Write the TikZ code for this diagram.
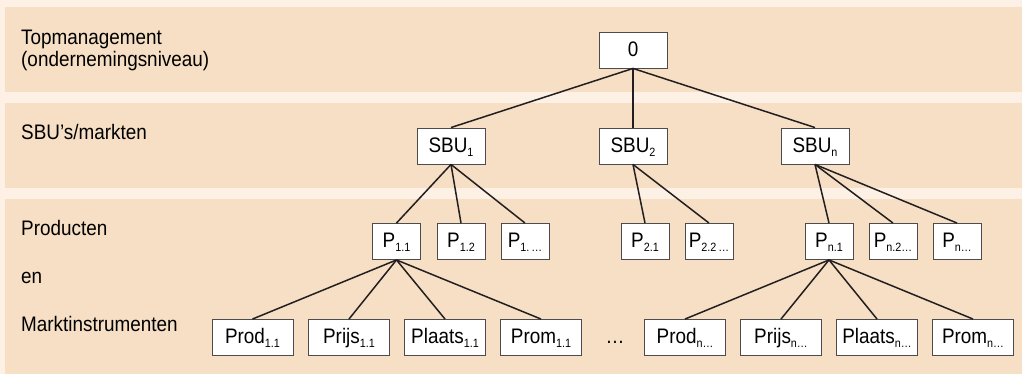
\documentclass[tikz,border=0pt]{standalone}
\usepackage{fontspec}
\setmainfont{Liberation Sans}[FakeStretch=0.9]
\usepackage{tikz}
\usetikzlibrary{positioning}
\definecolor{mycream}{RGB}{253,240,228}
\definecolor{mytan}{RGB}{246,223,196}
\definecolor{myink}{RGB}{35,31,32}
\tikzstyle{box}=[draw=black!70,fill=white,line width=0.9pt,inner sep=0pt,minimum height=36pt,text height=17pt,text depth=4pt]
\tikzstyle{topbox}=[box,minimum width=68pt]
\tikzstyle{pbox}=[box,minimum width=48pt]
\tikzstyle{mixbox}=[box,minimum width=81pt]
\tikzstyle{band}=[fill=mytan]
\tikzstyle{layer}=[anchor=base west,align=left,inner sep=0pt]
\tikzstyle{link}=[draw=myink,line width=1.5pt]
\newcommand{\ix}[1]{\raisebox{-4pt}{\fontsize{12}{12}\selectfont #1}}

\begin{document}
\begin{tikzpicture}[x=1pt,y=1pt,font=\fontsize{21}{22}\selectfont]
% bands
\fill[mycream] (0,0) rectangle (1022,374);
\fill[band] (5,282) rectangle (1022,367);
\fill[band] (5,186) rectangle (1022,271);
\fill[band] (5,0) rectangle (1022,175);
% row labels
\node[layer] (lbltop) at (21,307) {Topmanagement\\(ondernemingsniveau)};
\node[layer] (lblsbu) at (21,234) {SBU’s/markten};
\node[layer] (lblprod) at (21,138) {Producten};
\node[layer] (lblen) at (21,90) {en};
\node[layer] (lblmix) at (21,42) {Marktinstrumenten};
% tree
\draw (633,324) node [topbox] (o) {0};
\draw (451,228) node [topbox] (sbu1) {SBU\ix{1}};
\draw (633,228) node [topbox] (sbu2) {SBU\ix{2}};
\draw (815,228) node [topbox] (sbun) {SBU\ix{n}};
\draw (396.5,132.5) node [pbox] (p11) {P\ix{1.1}};
\draw (461,132.5) node [pbox] (p12) {P\ix{1.2}};
\draw (525,132.5) node [pbox] (p1x) {P\ix{1.\,\ldots}};
\draw (645,132.5) node [pbox] (p21) {P\ix{2.1}};
\draw (709,132.5) node [pbox] (p22) {P\ix{2.2\,\ldots}};
\draw (829,132.5) node [pbox] (pn1) {P\ix{n.1}};
\draw (893,132.5) node [pbox] (pn2) {P\ix{n.2\ldots}};
\draw (957,132.5) node [pbox] (pnx) {P\ix{n\ldots}};
\draw (252.5,36.5) node [mixbox] (prod1) {Prod\ix{1.1}};
\draw (349,36.5) node [mixbox] (prijs1) {Prijs\ix{1.1}};
\draw (445,36.5) node [mixbox] (plaats1) {Plaats\ix{1.1}};
\draw (541,36.5) node [mixbox] (prom1) {Prom\ix{1.1}};
\draw (615,36.5) node [box,draw=none,fill=none] (gap) {\ldots};
\draw (685,36.5) node [mixbox] (prodn) {Prod\ix{n\ldots}};
\draw (781,36.5) node [mixbox] (prijsn) {Prijs\ix{n\ldots}};
\draw (877,36.5) node [mixbox] (plaatsn) {Plaats\ix{n\ldots}};
\draw (973,36.5) node [mixbox] (promn) {Prom\ix{n\ldots}};
% connectors
\foreach \c in {sbu1,sbu2,sbun} \draw[link] (o.south) -- (\c.north);
\foreach \c in {p11,p12,p1x} \draw[link] (sbu1.south) -- (\c.north);
\foreach \c in {p21,p22} \draw[link] (sbu2.south) -- (\c.north);
\foreach \c in {pn1,pn2,pnx} \draw[link] (sbun.south) -- (\c.north);
\foreach \c in {prod1,prijs1,plaats1,prom1} \draw[link] (p11.south) -- (\c.north);
\foreach \c in {prodn,prijsn,plaatsn,promn} \draw[link] (pn1.south) -- (\c.north);
\end{tikzpicture}
\end{document}
